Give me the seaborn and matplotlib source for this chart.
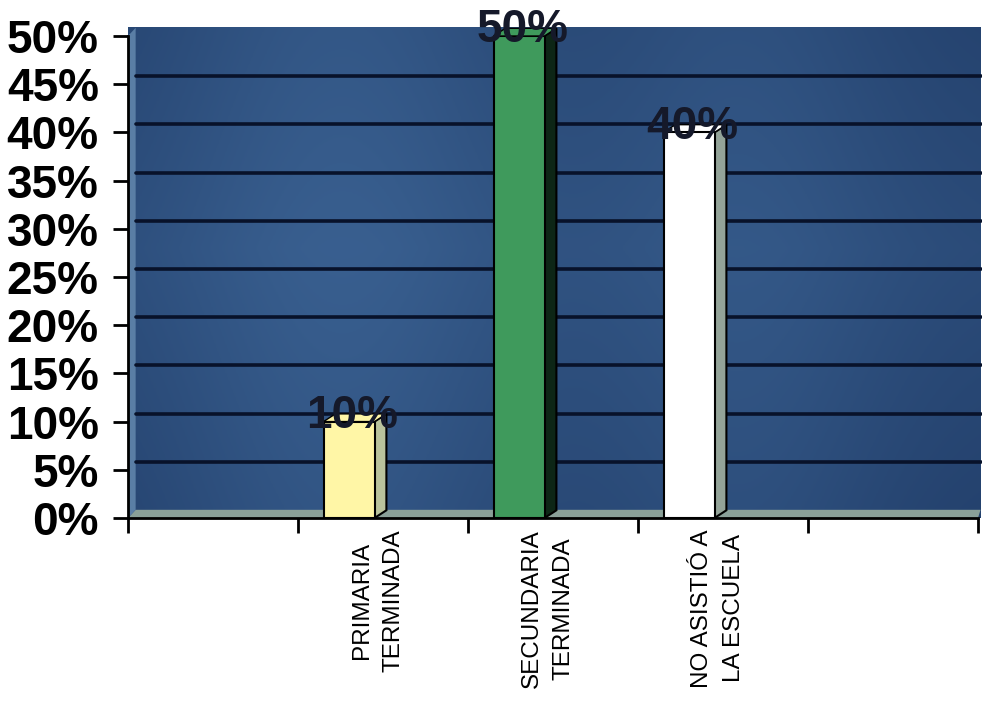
import numpy as np
import pandas as pd
import matplotlib
matplotlib.use('Agg')
import matplotlib.pyplot as plt
import matplotlib.transforms as mtransforms
from matplotlib.patches import Polygon
import seaborn as sns

# Data
categories = ['PRIMARIA\nTERMINADA', 'SECUNDARIA\nTERMINADA', 'NO ASISTIÓ A\nLA ESCUELA']
values = [10, 50, 40]
value_labels = ['10%', '50%', '40%']
y_ticks = [0, 5, 10, 15, 20, 25, 30, 35, 40, 45, 50]
y_tick_labels = ['0%', '5%', '10%', '15%', '20%', '25%', '30%', '35%', '40%', '45%', '50%']

front_colors = ['#fff6a6', '#3f9a5c', '#ffffff']
side_colors = ['#b9c39c', '#0d2616', '#93a398']

sns.set_theme(style='white')
plt.rcParams['font.family'] = ['Liberation Sans', 'DejaVu Sans']

df = pd.DataFrame({'nivel': categories, 'pct': values})

fig = plt.figure(figsize=(9.82, 7.02), dpi=100)
ax = fig.add_axes([128 / 982, 184 / 702, 850 / 982, 482 / 702])

# bars first so that ax.patches holds only the bars
sns.barplot(data=df, x='nivel', y='pct', hue='nivel', palette=front_colors,
            width=0.3, edgecolor='black', linewidth=1.5, legend=False,
            saturation=1, ax=ax, zorder=4)
bars = list(ax.patches)

# blue back wall with a soft gradient
xs = np.linspace(0, 1, 300)
ys = np.linspace(0, 1, 200)
gx, gy = np.meshgrid(xs, ys)
light = 0.45 + 0.3 * np.exp(-((gx - 0.25) / 0.22) ** 2) + 0.2 * np.exp(-((gx - 0.72) / 0.18) ** 2)
light = light - 0.25 * np.abs(gy - 0.55)
dark = np.array([0.08, 0.17, 0.33])
bright = np.array([0.27, 0.44, 0.64])
img = dark[None, None, :] + (bright - dark)[None, None, :] * np.clip(light, 0, 1)[:, :, None]
ax.imshow(img, extent=[0.0, 1.003, 0.0, 1.017], transform=ax.transAxes,
          aspect='auto', zorder=0, clip_on=False, origin='lower')

# floor and left wall strips
floor = Polygon([(0, 0), (1, 0), (1.003, 0.017), (0.009, 0.017)], closed=True,
                transform=ax.transAxes, facecolor='#8aa098', edgecolor='none',
                zorder=1, clip_on=False)
ax.add_patch(floor)
wall = Polygon([(0, 0), (0.009, 0.017), (0.009, 1.017), (0, 1.0)], closed=True,
               transform=ax.transAxes, facecolor='#5a7ea5', edgecolor='none',
               zorder=1, clip_on=False)
ax.add_patch(wall)

# gridlines on the back wall, shifted up like a 3D chart
shift = mtransforms.ScaledTranslation(0, 8 / 100, fig.dpi_scale_trans)
for yv in y_ticks[1:-1]:
    ax.plot([0.009, 1.003], [yv, yv], color='#08122a', lw=2.6,
            transform=ax.get_yaxis_transform() + shift, zorder=2, clip_on=False)

dx = 0.07
dy = 0.8
for i, patch in enumerate(bars):
    patch.set_x(patch.get_x() - 0.2)
    x0 = patch.get_x()
    w = patch.get_width()
    h = patch.get_height()
    r = x0 + w
    side = Polygon([(r, 0), (r + dx, dy), (r + dx, h + dy), (r, h)], closed=True,
                   facecolor=side_colors[i], edgecolor='black', lw=1.5, zorder=3,
                   clip_on=False)
    ax.add_patch(side)
    top = Polygon([(x0, h), (r, h), (r + dx, h + dy), (x0 + dx, h + dy)], closed=True,
                  facecolor=front_colors[i], edgecolor='black', lw=1.0, zorder=3,
                  clip_on=False)
    ax.add_patch(top)
    ax.text(x0 + w / 2 + 0.02, h + 0.6, value_labels[i], ha='center', va='center',
            fontsize=33, fontweight='bold', color='#15192a', zorder=6, clip_on=False)

ax.set_xlim(-1.5, 3.5)
ax.set_ylim(0, 50)
ax.set_yticks(y_ticks)
ax.set_yticklabels(y_tick_labels, fontsize=33, fontweight='bold', color='black')

# boundary ticks as major, category labels on minor ticks
ax.set_xticks([-1.5, -0.5, 0.5, 1.5, 2.5, 3.5])
ax.set_xticklabels([])
ax.set_xticks([p - 0.03 for p in range(len(categories))], minor=True)
ax.set_xticklabels(categories, minor=True, rotation=90, fontsize=17.5,
                   va='top', ha='center', linespacing=1.6, color='black')
ax.tick_params(axis='x', which='major', direction='out', length=11, width=2,
               color='black', bottom=True)
ax.tick_params(axis='x', which='minor', length=0, pad=8, bottom=True)
ax.tick_params(axis='y', direction='out', length=11, width=2, color='black',
               left=True, pad=10)

ax.set_xlabel('')
ax.set_ylabel('')
for s in ['top', 'right']:
    ax.spines[s].set_visible(False)
for s in ['left', 'bottom']:
    ax.spines[s].set_color('black')
    ax.spines[s].set_linewidth(2)
    ax.spines[s].set_zorder(7)
ax.grid(False)

fig.savefig('out.png', dpi=100, facecolor='white')
